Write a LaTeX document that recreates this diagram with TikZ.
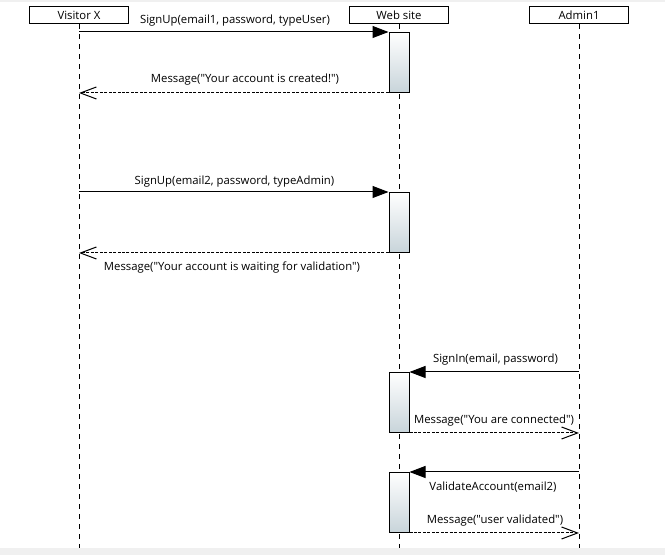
\documentclass[tikz,border=0pt]{standalone}
\usepackage{fontspec}
\newfontfamily\lblfont{Open Sans}
\usetikzlibrary{arrows.meta}
\definecolor{bggray}{RGB}{240,240,240}
\definecolor{actbot}{RGB}{200,212,218}
\begin{document}
\begin{tikzpicture}[x=0.75pt,y=-0.75pt,
  lbl/.style={font=\lblfont\fontsize{8.5}{10}\selectfont, inner sep=0pt},
  head/.style={draw, line width=0.75pt, fill=white, minimum width=74.25pt, minimum height=12.75pt, inner sep=0pt, font=\lblfont\fontsize{8.5}{10}\selectfont},
  life/.style={line width=0.75pt, dash pattern=on 3.75pt off 3.75pt},
  act/.style={draw, line width=0.75pt, top color=white, bottom color=actbot, minimum width=15pt, minimum height=45pt, inner sep=0pt, anchor=north},
  call/.style={line width=0.75pt, -{Triangle[length=12pt,width=9pt]}},
  ret/.style={line width=0.75pt, dash pattern=on 2.25pt off 1.1pt, -{Straight Barb[length=12pt,width=9pt,line width=0.75pt]}}
]
\useasboundingbox (0,0) rectangle (665,555);
\fill[bggray] (0,0) rectangle (665,2.5);
\fill[bggray] (0,548) rectangle (665,555);

% heads
\node[head] (vx) at (79,15.5) {Visitor X};
\node[head] (ws) at (399,15.5) {Web site};
\node[head] (ad) at (579,15.5) {Admin1};

\coordinate (vxend) at (79,548);
\coordinate (wsend) at (399,548);
\coordinate (adend) at (579,548);
\draw[life] (vx.south) -- (vxend);
\draw[life] (ws.south) -- (wsend);
\draw[life] (ad.south) -- (adend);

% activations
\node[act] (a1) at (399,32) {};
\node[act] (a2) at (399,192) {};
\node[act] (a3) at (399,372) {};
\node[act] (a4) at (399,472) {};

% messages
\draw[call] (vx.south |- a1.north) -- (a1.north west);
\draw[ret] (a1.south west) -- (vx.south |- a1.south);
\draw[call] (vx.south |- a2.north) -- (a2.north west);
\draw[ret] (a2.south west) -- (vx.south |- a2.south);
\draw[call] (ad.south |- a3.north) -- (a3.north east);
\draw[ret] (a3.south east) -- (ad.south |- a3.south);
\draw[call] (ad.south |- a4.north) -- (a4.north east);
\draw[ret] (a4.south east) -- (ad.south |- a4.south);

% labels
\node[lbl] (l1) at (235,20.5) {SignUp(email1, password, typeUser)};
\node[lbl] (l2) at (245,79.5) {Message("Your account is created!")};
\node[lbl] (l3) at (234.5,181.5) {SignUp(email2, password, typeAdmin)};
\node[lbl] (l4) at (232,267.5) {Message("Your account is waiting for validation")};
\node[lbl] (l5) at (495.5,360) {SignIn(email, password)};
\node[lbl] (l6) at (494,420.5) {Message("You are connected")};
\node[lbl] (l7) at (493,487.5) {ValidateAccount(email2)};
\node[lbl] (l8) at (495,520.5) {Message("user validated")};
\end{tikzpicture}
\end{document}
